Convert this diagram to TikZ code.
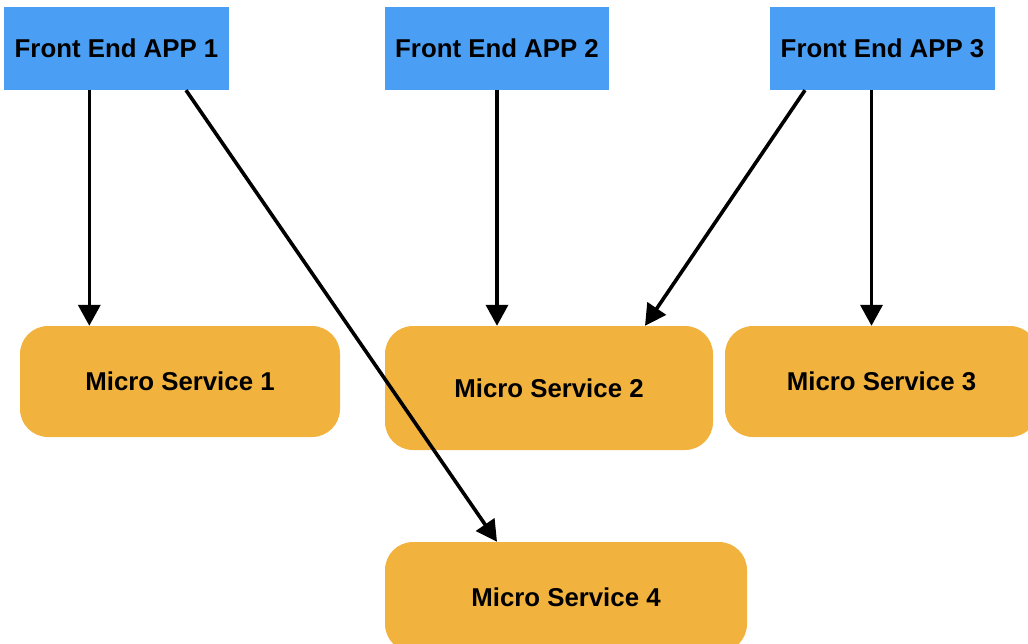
\documentclass[tikz,border=0pt]{standalone}
\usepackage{fontspec}
\setmainfont{Liberation Sans}
\usetikzlibrary{arrows.meta}
\definecolor{appblue}{RGB}{74,159,245}
\definecolor{msorange}{RGB}{242,179,62}
\tikzset{
  appbox/.style={rectangle, fill=appblue, inner sep=0pt, minimum width=225pt, minimum height=83pt,
    font=\fontsize{25.8}{30}\selectfont\bfseries},
  msbox/.style={rectangle, rounded corners=28pt, fill=msorange, inner sep=0pt,
    font=\fontsize{25.8}{30}\selectfont\bfseries},
  arr/.style={line width=3.6pt, -{Triangle[length=21pt,width=22pt]}}
}
\begin{document}
\begin{tikzpicture}[x=1pt,y=-1pt]
\useasboundingbox (0,0) rectangle (1028,643);
\node[appbox] (app1) at (116.5,48.5) {Front End APP 1};
\node[appbox, minimum width=224pt] (app2) at (497,48.5) {Front End APP 2};
\node[appbox] (app3) at (882.5,48.5) {Front End APP 3};
\node[msbox, minimum width=320pt, minimum height=111pt] (ms1) at (180,381.5) {Micro Service 1};
\node[msbox, minimum width=328pt, minimum height=124pt] (ms2) at (549,388) {Micro Service 2};
\node[msbox, minimum width=313pt, minimum height=111pt] (ms3) at (881.5,381.5) {Micro Service 3};
\node[msbox, minimum width=362pt, minimum height=110pt] (ms4) at (566,597) {Micro Service 4};
\draw[arr] ([xshift=-27.2pt]app1.south) -- ([xshift=-27.2pt]app1.south |- ms1.north);
\draw[arr] ([xshift=69.5pt]app1.south) -- ([xshift=-69pt]ms4.north);
\draw[arr] (app2.south) -- (app2.south |- ms2.north);
\draw[arr] ([xshift=-77.5pt]app3.south) -- ([xshift=96pt]ms2.north);
\draw[arr] ([xshift=-11pt]app3.south) -- ([xshift=-11pt]app3.south |- ms3.north);
\end{tikzpicture}
\end{document}
